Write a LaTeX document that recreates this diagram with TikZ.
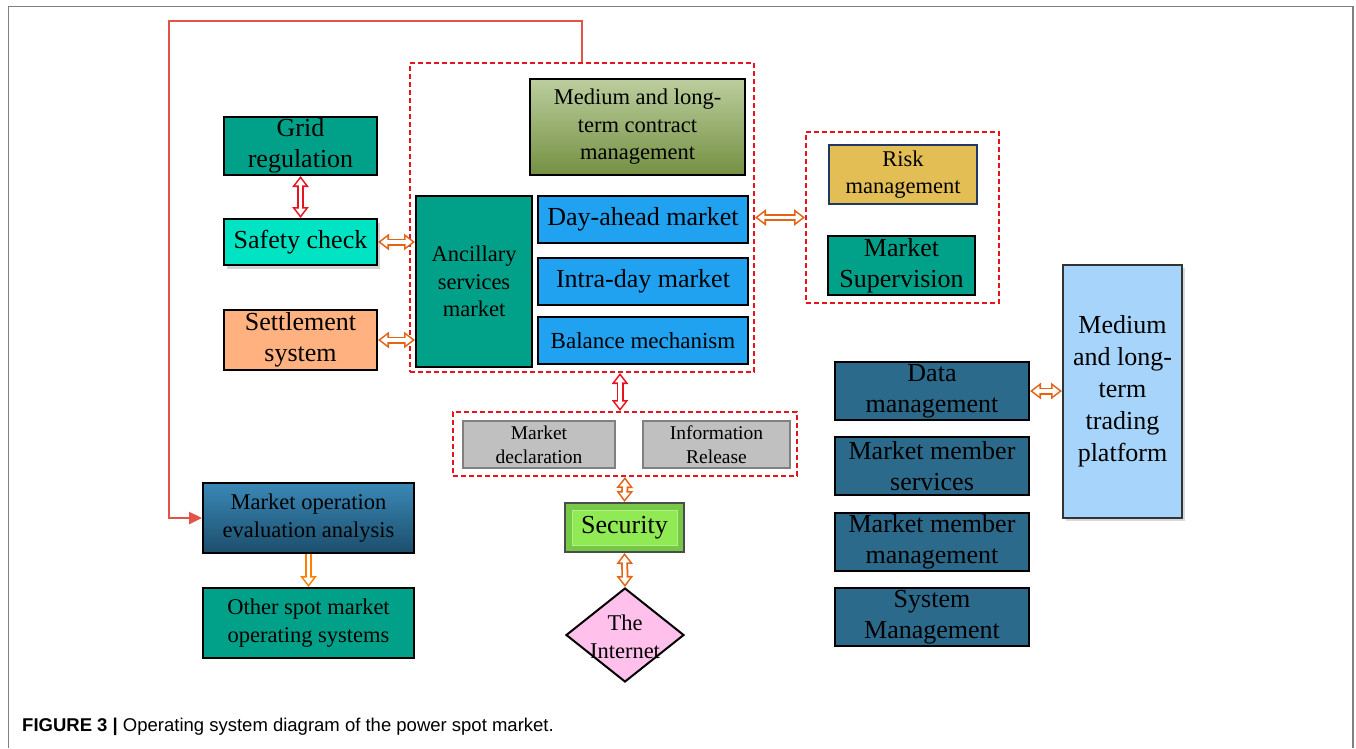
\documentclass[tikz,border=0pt]{standalone}
\usepackage{fontspec}
\setmainfont{Liberation Serif}
\newfontfamily\capfont{Liberation Sans}
\usepackage{tikz}
\usetikzlibrary{arrows.meta}
\usetikzlibrary{shapes.geometric,shadows}
\definecolor{tealbox}{RGB}{0,161,136}
\definecolor{safetyc}{RGB}{0,228,196}
\definecolor{settlec}{RGB}{255,178,128}
\definecolor{mktblue}{RGB}{32,162,240}
\definecolor{olivetop}{RGB}{188,206,158}
\definecolor{olivebot}{RGB}{116,144,66}
\definecolor{riskgold}{RGB}{227,190,85}
\definecolor{riskedge}{RGB}{31,56,100}
\definecolor{pubgray}{RGB}{192,192,192}
\definecolor{secdark}{RGB}{118,200,70}
\definecolor{secface}{RGB}{144,234,84}
\definecolor{netpink}{RGB}{255,192,236}
\definecolor{evaltop}{RGB}{58,136,182}
\definecolor{evalbot}{RGB}{28,78,108}
\definecolor{mgmtblue}{RGB}{44,106,140}
\definecolor{platblue}{RGB}{166,212,250}
\definecolor{dashred}{RGB}{230,20,30}
\definecolor{arrorange}{RGB}{226,100,20}
\definecolor{downorange}{RGB}{255,128,0}
\definecolor{fbred}{RGB}{226,84,72}
\tikzset{txtL/.style={font=\fontsize{26}{31}\selectfont}}
\tikzset{txtM/.style={font=\fontsize{22.5}{27.5}\selectfont}}
\tikzset{txtS/.style={font=\fontsize{19.5}{24}\selectfont}}
\tikzset{box/.style={draw=black, line width=2pt, rectangle, inner sep=0pt, align=center}}
\tikzset{group/.style={draw=dashred, line width=2pt, dash pattern=on 5pt off 3pt, rectangle, inner sep=0pt}}
% hollow block arrows: white core over a coloured outline
\tikzset{blockarrow/.style={line width=3.5pt, white, shorten <=2.7pt, shorten >=2.7pt,
  {Triangle[length=6.7pt,width=9.8pt]}-{Triangle[length=6.7pt,width=9.8pt]},
  preaction={draw=#1, line width=7pt, shorten <=0pt, shorten >=0pt,
  {Triangle[length=11pt,width=16pt]}-{Triangle[length=11pt,width=16pt]}}}}
\tikzset{downarrow/.style={line width=3.5pt, white, shorten >=2.7pt,
  -{Triangle[length=6.7pt,width=9.8pt]},
  preaction={draw=#1, line width=7pt, shorten >=0pt, -{Triangle[length=11pt,width=16pt]}}}}

\begin{document}
\begin{tikzpicture}[x=1pt,y=-1pt]
\useasboundingbox (0,0) rectangle (1356,748);
% figure frame
\draw[gray, line width=1.5pt] (8.5,748) -- (8.5,6.5) -- (1353,6.5) -- (1353,748);

% left column
\node[box, fill=tealbox, txtL, minimum width=153pt, minimum height=58pt] (grid) at (300.5,146) {Grid\\regulation};
\node[box, fill=safetyc, txtL, minimum width=153pt, minimum height=46pt,
  drop shadow={shadow xshift=3pt, shadow yshift=-4pt, opacity=0.35}] (safety) at (300.5,242) {Safety check};
\node[box, fill=settlec, txtL, minimum width=153pt, minimum height=60pt] (settle) at (300.5,340) {Settlement\\system};

% market group
\node[group, minimum width=344pt, minimum height=309pt] (mkt) at (582,217.5) {};
\node[box, fill=tealbox, txtM, minimum width=116pt, minimum height=171pt] (anc) at (474,281.5) {Ancillary\\services\\market};
\node[box, top color=olivetop, bottom color=olivebot, txtM, minimum width=215pt, minimum height=96pt] (contract) at (637.5,127) {Medium and long-\\term contract\\management};
\node[box, fill=mktblue, txtL, minimum width=210pt, minimum height=47pt] (day) at (643,219.5) {Day-ahead market};
\node[box, fill=mktblue, txtL, minimum width=210pt, minimum height=47pt] (intra) at (643,281.5) {Intra-day market};
\node[box, fill=mktblue, font=\fontsize{23}{27}\selectfont, minimum width=210pt, minimum height=47pt] (bal) at (643,340.5) {Balance mechanism};

% risk group
\node[group, minimum width=193pt, minimum height=171pt] (riskgrp) at (902.5,217.5) {};
\node[box, draw=riskedge, fill=riskgold, txtM, minimum width=148pt, minimum height=59pt] (risk) at (903,174.5) {Risk\\management};
\node[box, fill=tealbox, txtL, minimum width=147pt, minimum height=59pt] (sup) at (901.5,265.5) {Market\\Supervision};

% publication group
\node[group, minimum width=344pt, minimum height=64pt] (pub) at (625,444) {};
\node[box, draw=gray, line width=1.5pt, fill=pubgray, txtS, minimum width=152pt, minimum height=47pt] (decl) at (539,444.5) {Market\\declaration};
\node[box, draw=gray, line width=1.5pt, fill=pubgray, txtS, minimum width=147pt, minimum height=47pt] (info) at (716.5,444.5) {Information\\Release};

% security and internet
\node[box, draw=gray!60!black, fill=secdark, txtL, minimum width=119pt, minimum height=49pt,
  path picture={\draw[fill=secface, draw=secface!70!white, line width=1pt]
    ([shift={(7pt,-7pt)}]path picture bounding box.north west) rectangle
    ([shift={(-7pt,7pt)}]path picture bounding box.south east);}] (sec) at (624.5,527.5) {Security};
\node[diamond, draw=black, line width=2pt, fill=netpink, inner sep=0pt, minimum width=118pt, minimum height=94pt] (net) at (625,635) {};
\node[txtM, align=center, inner sep=0pt] (netlbl) at (625,637) {The\\Internet};

% evaluation
\node[box, top color=evaltop, bottom color=evalbot, txtM, minimum width=211pt, minimum height=70pt] (eval) at (308.5,518) {Market operation\\evaluation analysis};
\node[box, fill=tealbox, txtM, minimum width=211pt, minimum height=70pt] (other) at (308.5,623) {Other spot market\\operating systems};

% management column
\node[box, fill=mgmtblue, txtL, minimum width=194pt, minimum height=58pt] (data) at (932,391) {Data\\management};
\node[box, fill=mgmtblue, txtL, minimum width=194pt, minimum height=58pt] (mms) at (932,466) {Market member\\services};
\node[box, fill=mgmtblue, txtL, minimum width=194pt, minimum height=58pt] (mmm) at (932,542) {Market member\\management};
\node[box, fill=mgmtblue, txtL, minimum width=194pt, minimum height=58pt] (sysm) at (932,617) {System\\Management};
\node[box, draw=black!80, fill=platblue, font=\fontsize{26}{32}\selectfont, minimum width=119pt, minimum height=253pt,
  drop shadow={shadow xshift=3pt, shadow yshift=-3pt, opacity=0.3}] (plat) at (1122.5,391.5) {Medium\\and long-\\term\\trading\\platform};

% connectors
\draw[blockarrow=dashred] (grid.south) -- (safety.north);
\draw[blockarrow=arrorange] (safety.east) -- (safety.east -| anc.west);
\draw[blockarrow=arrorange] (settle.east) -- (settle.east -| anc.west);
\draw[blockarrow=arrorange] (mkt.east) -- (riskgrp.west);
\draw[blockarrow=dashred] ([xshift=-5pt]pub.north) -- ([xshift=-5pt]pub.north |- mkt.south);
\draw[blockarrow=arrorange] (pub.south) -- (sec.north);
\draw[blockarrow=arrorange] (sec.south) -- (net.north);
\draw[blockarrow=arrorange] (data.east) -- (data.east -| plat.west);
\draw[downarrow=downorange] (eval.south) -- (other.north);
\draw[fbred, line width=2.5pt, -{Triangle[length=13pt,width=12pt]}] (mkt.north) -- ++(0,-41) -| ([xshift=-33pt]eval.west) -- (eval.west);

% caption
\node[anchor=west, inner sep=0pt, font=\capfont\fontsize{18.5}{22}\selectfont] (cap) at (22,727) {\textbf{FIGURE 3 |} Operating system diagram of the power spot market.};
\end{tikzpicture}
\end{document}
